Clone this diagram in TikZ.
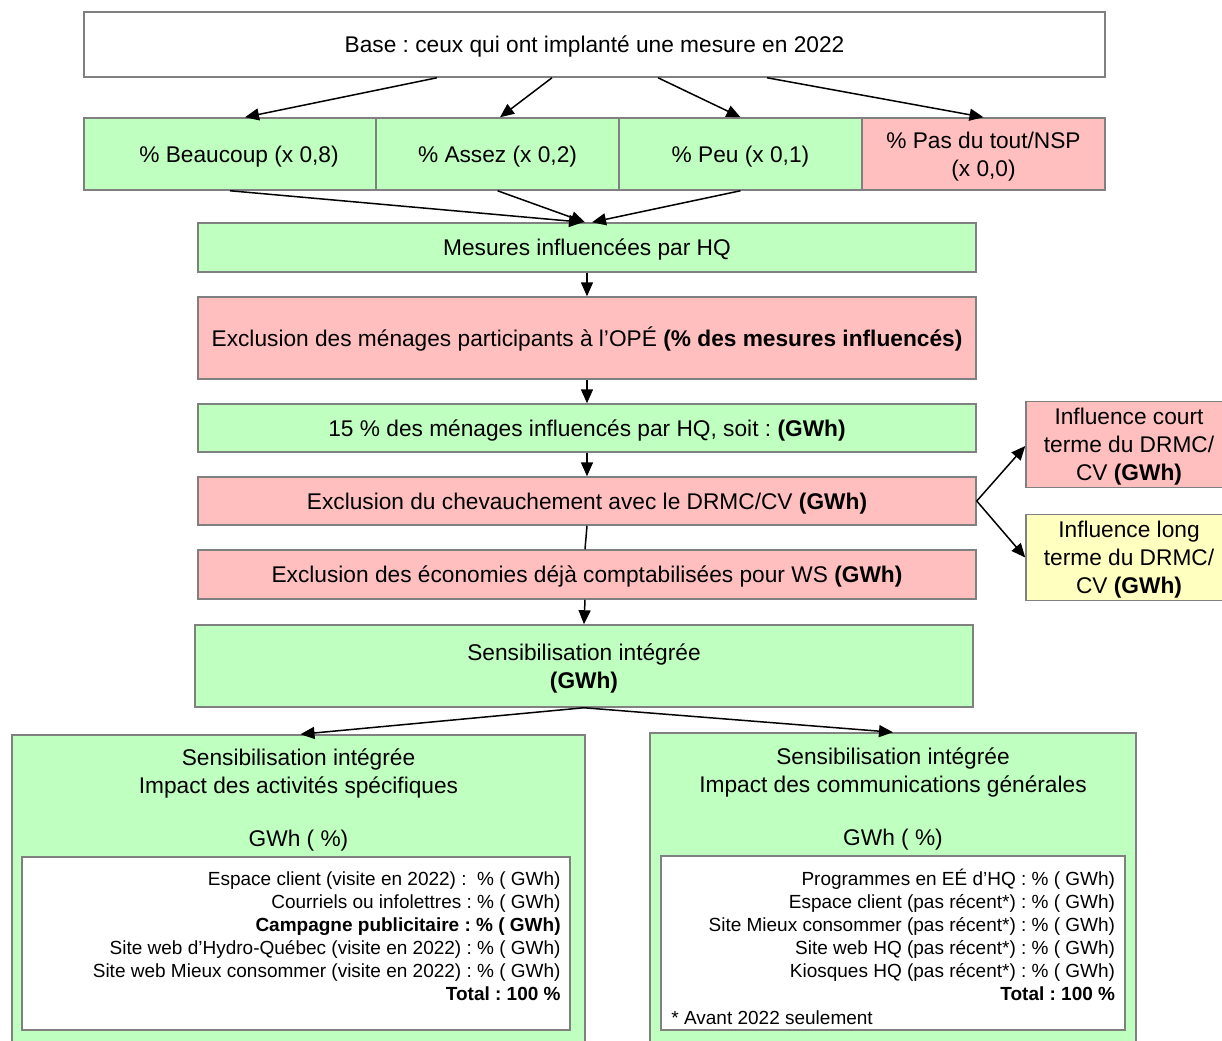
\documentclass[tikz,border=0pt]{standalone}
\usepackage{fontspec}
\setmainfont{Liberation Sans}
\usetikzlibrary{arrows.meta}
\definecolor{bgreen}{HTML}{BFFFBF}
\definecolor{bpink}{HTML}{FFBFBF}
\definecolor{byellow}{HTML}{FFFFBF}
\definecolor{bgray}{HTML}{808080}
\newcommand{\mainfs}{\fontsize{11.35}{14}\selectfont}
\newcommand{\smallfs}{\fontsize{9.5}{11.5}\selectfont}
\newcommand{\topstrut}{\rule{0pt}{0.94em}}
\frenchspacing
\begin{document}
\frenchspacing
\begin{tikzpicture}[x=0.5pt,y=-0.5pt,
  box/.style={draw=bgray, line width=0.75pt, inner sep=1pt, align=center, font=\mainfs,
    execute at begin node={\topstrut}},
  gbox/.style={box, fill=bgreen},
  pbox/.style={box, fill=bpink},
  ybox/.style={box, fill=byellow},
  wbox/.style={box, fill=white},
  wide/.style={minimum width=389pt},
  rowbox/.style={minimum width=121.5pt, minimum height=36pt},
  sidebox/.style={minimum width=103pt, minimum height=41.5pt},
  txt/.style={inner sep=0pt, align=center, font=\mainfs},
  smalltxt/.style={inner sep=0pt, align=right, font=\smallfs},
  arr/.style={-{Triangle[length=7pt,width=6pt]}, line width=0.75pt, black},
  plain/.style={line width=0.75pt, black}]
\useasboundingbox (0,0) rectangle (1222,1040);
\clip (0,0) rectangle (1222,1040);

% top
\node[wbox, minimum width=510.5pt, minimum height=32.5pt] (base) at (594.5,44.5)
  {Base : ceux qui ont implanté une mesure en 2022};
\node[gbox, rowbox, minimum width=146pt] (beau) at (230,154) {\hspace{9pt}\% Beaucoup (x 0,8)};
\node[gbox, rowbox] (assez) at (497.5,154) {\% Assez (x 0,2)};
\node[gbox, rowbox] (peu) at (740.5,154) {\% Peu (x 0,1)};
\node[pbox, rowbox] (pas) at (983.5,154) {\topstrut\% Pas du tout/NSP\\(x 0,0)};

% main column
\node[gbox, wide, minimum height=24.5pt] (mes) at (587,247.5) {Mesures influencées par HQ};
\node[pbox, wide, minimum height=41pt] (ope) at (587,338)
  {Exclusion des ménages participants à l’OPÉ \textbf{(\% des mesures influencés)}};
\node[gbox, wide, minimum height=24pt] (q15) at (587,428)
  {15 \% des ménages influencés par HQ, soit : \textbf{(GWh)}};
\node[pbox, wide, minimum height=24pt] (chev) at (587,501)
  {Exclusion du chevauchement avec le DRMC/CV \textbf{(GWh)}};
\node[pbox, wide, minimum height=24.5pt] (ws) at (587,574.5)
  {Exclusion des économies déjà comptabilisées pour WS \textbf{(GWh)}};
\node[gbox, wide, minimum height=41pt] (sens) at (584,666)
  {\topstrut Sensibilisation intégrée\\\textbf{(GWh)}};

% side boxes
\node[pbox, sidebox] (court) at (1129,444.5)
  {\topstrut Influence court\\terme du DRMC/\\CV \textbf{(GWh)}};
\node[ybox, sidebox] (long) at (1129,557.5)
  {\topstrut Influence long\\terme du DRMC/\\CV \textbf{(GWh)}};

% bottom boxes
\node[gbox, minimum width=286.5pt, minimum height=157.5pt] (left) at (298.5,892.5) {};
\node[wbox, minimum width=274pt, minimum height=86.5pt] (leftin) at (296,943.5) {};
\node[txt, anchor=north] (lefttitle) at (298.5,748)
  {Sensibilisation intégrée\\Impact des activités spécifiques\\[12.5pt]GWh ( \%)};
\node[smalltxt, anchor=north east] (leftlist) at (561,871.5)
  {Espace client (visite en 2022) : \ \% ( GWh)\\
   Courriels ou infolettres : \% ( GWh)\\
   \textbf{Campagne publicitaire : \% ( GWh)}\\
   Site web d’Hydro-Québec (visite en 2022) : \% ( GWh)\\
   Site web Mieux consommer (visite en 2022) : \% ( GWh)\\
   \textbf{Total : 100 \%}};

\node[gbox, minimum width=243pt, minimum height=158.5pt] (right) at (893,891.5) {};
\node[wbox, minimum width=232pt, minimum height=87pt] (rightin) at (893,943) {};
\node[txt, anchor=north] (righttitle) at (893,747)
  {Sensibilisation intégrée\\Impact des communications générales\\[12.5pt]GWh ( \%)};
\node[smalltxt, anchor=north east] (rightlist) at (1115.5,868.5)
  {Programmes en EÉ d’HQ : \% ( GWh)\\
   Espace client (pas récent*) : \% ( GWh)\\
   Site Mieux consommer (pas récent*) : \% ( GWh)\\
   Site web HQ (pas récent*) : \% ( GWh)\\
   Kiosques HQ (pas récent*) : \% ( GWh)\\
   \textbf{Total : 100 \%}};
\node[smalltxt, anchor=west] (note) at (671,1018) {* Avant 2022 seulement};

% connectors
\draw[arr] ([xshift=-78.75pt]base.south) -- ([xshift=7.5pt]beau.north);
\draw[arr] ([xshift=-21.25pt]base.south) -- ([xshift=1.25pt]assez.north);
\draw[arr] ([xshift=31.75pt]base.south) -- (peu.north);
\draw[arr] ([xshift=86.25pt]base.south) -- (pas.north);

\draw[arr] (beau.south) -- ([xshift=-2pt]mes.north);
\draw[arr] (assez.south) -- ([xshift=-1pt]mes.north);
\draw[arr] (peu.south) -- ([xshift=2.5pt]mes.north);

\draw[arr] (mes) -- (ope);
\draw[arr] (ope) -- (q15);
\draw[arr] (q15) -- (chev);
\draw[plain] (chev.south) -- ([xshift=-1pt]ws.north);
\draw[arr] ([xshift=-1pt]ws.south) -- (sens.north);

\draw[arr] (chev.east) -- ([yshift=-0.75pt]court.west);
\draw[arr] (chev.east) -- (long.west);

\draw[arr] (sens.south) -- ([xshift=1pt]left.north);
\draw[arr] (sens.south) -- (right.north);
\end{tikzpicture}
\end{document}
